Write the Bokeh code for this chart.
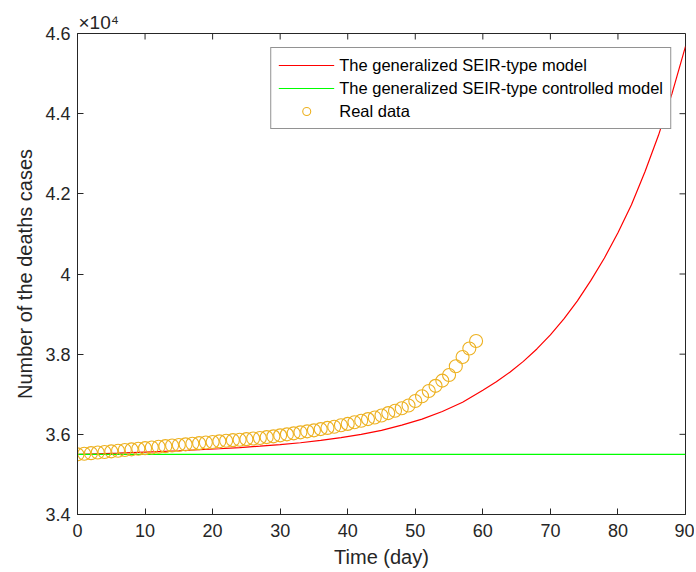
import math
from bokeh.plotting import figure
from bokeh.models import (Range1d, FixedTicker, Legend, LegendItem, Title)
from bokeh.embed import file_html
from bokeh.resources import INLINE

# ---- data ----
model_days = [0, 3, 6, 9, 12, 15, 18, 21, 24, 27, 30, 33, 36, 39, 42, 45, 48, 51,
              54, 57, 60, 62, 64, 66, 68, 70, 72, 74, 76, 78, 80, 82, 84, 86, 88, 90]
model_deaths = [35500, 35515, 35530, 35550, 35570, 35590, 35615, 35640, 35670, 35705,
                35745, 35790, 35850, 35920, 36000, 36100, 36230, 36380, 36570, 36800,
                37100, 37310, 37550, 37820, 38130, 38480, 38880, 39330, 39840, 40400,
                41030, 41730, 42550, 43460, 44500, 45680]
controlled_days = [0, 90]
controlled_deaths = [35500, 35500]
real_days = list(range(0, 60))
real_deaths = [35500, 35515, 35530, 35545, 35560, 35575, 35590, 35610, 35625, 35640,
               35655, 35670, 35690, 35705, 35720, 35735, 35750, 35765, 35780, 35795,
               35810, 35825, 35840, 35855, 35865, 35880, 35895, 35910, 35930, 35950,
               35975, 36000, 36025, 36050, 36075, 36100, 36130, 36160, 36190, 36225,
               36260, 36300, 36340, 36380, 36420, 36470, 36530, 36590, 36650, 36720,
               36830, 36950, 37080, 37210, 37340, 37480, 37700, 37930, 38140, 38330]
x_ticks = [0, 10, 20, 30, 40, 50, 60, 70, 80, 90]
y_ticks = [34000, 36000, 38000, 40000, 42000, 44000, 46000]
y_tick_labels = ["3.4", "3.6", "3.8", "4", "4.2", "4.4", "4.6"]
y_exponent_label = "×10⁴"
legend_labels = ["The generalized SEIR-type model",
                 "The generalized SEIR-type controlled model",
                 "Real data"]

FONT = "Liberation Sans"
TXT = "#262626"
X_MIN, X_MAX = 0, 90
Y_MIN, Y_MAX = 34000, 46000

p = figure(width=694, height=570, output_backend="svg", toolbar_location=None,
           x_range=Range1d(X_MIN, X_MAX), y_range=Range1d(Y_MIN, Y_MAX),
           min_border_left=77, min_border_right=9, min_border_top=33,
           min_border_bottom=56)
p.background_fill_color = "white"
p.border_fill_color = "white"
p.outline_line_color = TXT
p.grid.visible = False

p.title = Title(text=y_exponent_label, align="left", offset=1, standoff=2,
                text_font=FONT, text_font_size="19px", text_font_style="normal",
                text_color=TXT)

for ax in (p.xaxis[0], p.yaxis[0]):
    ax.axis_line_color = TXT
    ax.major_tick_line_color = TXT
    ax.major_tick_in = 6
    ax.major_tick_out = 0
    ax.minor_tick_line_color = None
    ax.major_label_text_font = FONT
    ax.major_label_text_font_size = "18px"
    ax.major_label_text_color = TXT
    ax.axis_label_text_font = FONT
    ax.axis_label_text_font_size = "20px"
    ax.axis_label_text_font_style = "normal"
    ax.axis_label_text_color = TXT

p.xaxis[0].ticker = FixedTicker(ticks=x_ticks)
p.yaxis[0].ticker = FixedTicker(ticks=y_ticks)
p.yaxis[0].major_label_overrides = {t: l for t, l in zip(y_ticks, y_tick_labels)}
p.xaxis[0].axis_label = "Time (day)"
p.yaxis[0].axis_label = "Number of the deaths cases"
p.xaxis[0].major_label_standoff = 9
p.xaxis[0].axis_label_standoff = 6
p.yaxis[0].major_label_standoff = 7
p.yaxis[0].axis_label_standoff = 6

# inward ticks on the top and right edges of the box (MATLAB "box on")
p.ray(x=x_ticks, y=[Y_MAX] * len(x_ticks), length=6, length_units="screen",
      angle=-math.pi / 2, line_color=TXT, line_width=1)
p.ray(x=[X_MAX] * len(y_ticks), y=y_ticks, length=6, length_units="screen",
      angle=math.pi, line_color=TXT, line_width=1)

r_model = p.line(model_days, model_deaths, line_color="#FF0000", line_width=1.2)
r_ctrl = p.line(controlled_days, controlled_deaths, line_color="#00FF00", line_width=1.2)
r_real = p.scatter(real_days, real_deaths, marker="circle", size=13, fill_color=None,
                   line_color="#EDB120", line_width=1.1)

legend = Legend(items=[LegendItem(label=legend_labels[0], renderers=[r_model]),
                       LegendItem(label=legend_labels[1], renderers=[r_ctrl]),
                       LegendItem(label=legend_labels[2], renderers=[r_real])],
                location="top_right", margin=14, padding=7, spacing=3,
                glyph_width=56, glyph_height=20, label_height=20, label_standoff=5,
                label_text_font=FONT, label_text_font_size="16.5px",
                label_text_color="black", border_line_color=TXT,
                border_line_width=1, background_fill_color="white",
                background_fill_alpha=1)
p.add_layout(legend)

open("out.html", "w").write(file_html(p, INLINE))
